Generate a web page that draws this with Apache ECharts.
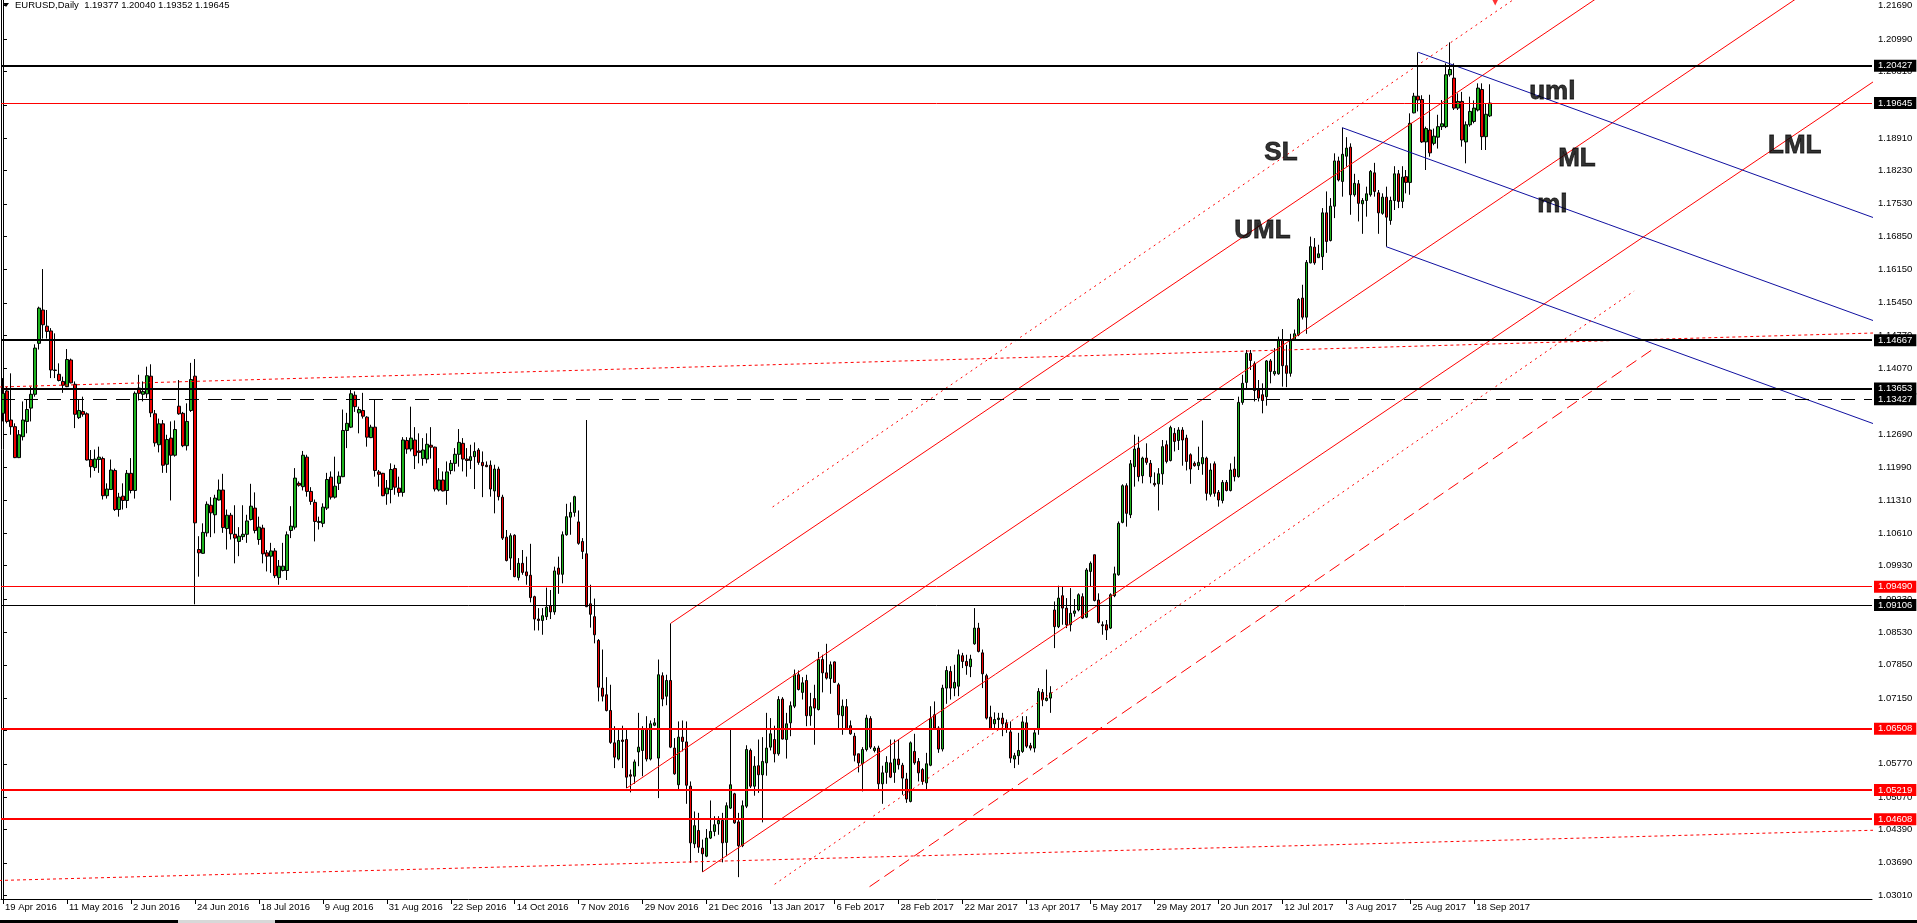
<!DOCTYPE html>
<html>
<head>
<meta charset="utf-8">
<script src="https://cdn.jsdelivr.net/npm/echarts@6/dist/echarts.min.js"></script>
<style>
html,body{margin:0;padding:0;background:#fff;}
#chart{width:1917px;height:923px;}
</style>
</head>
<body>
<div id="chart"></div>
<script>
// ---------------- DATA ----------------
const symbolName = 'EURUSD,Daily';
const dateLabels = ['19 Apr 2016','11 May 2016','2 Jun 2016','24 Jun 2016','18 Jul 2016','9 Aug 2016','31 Aug 2016','22 Sep 2016','14 Oct 2016','7 Nov 2016','29 Nov 2016','21 Dec 2016','13 Jan 2017','6 Feb 2017','28 Feb 2017','22 Mar 2017','13 Apr 2017','5 May 2017','29 May 2017','20 Jun 2017','12 Jul 2017','3 Aug 2017','25 Aug 2017','18 Sep 2017'];
const yTickLabels = [1.21690,1.20990,1.20310,1.19610,1.18910,1.18230,1.17530,1.16850,1.16150,1.15450,1.14770,1.14070,1.13390,1.12690,1.11990,1.11310,1.10610,1.09930,1.09230,1.08530,1.07850,1.07150,1.06470,1.05770,1.05070,1.04390,1.03690,1.03010];

const opens = [1.1313,1.1360,1.1299,1.1285,1.1220,1.1264,1.1296,1.1324,1.1353,1.1460,1.1530,1.1496,1.1486,1.1404,1.1395,1.1380,1.1369,1.1425,1.1374,1.1304,
1.1317,1.1312,1.1216,1.1199,1.1216,1.1218,1.1140,1.1153,1.1193,1.1111,1.1139,1.1130,1.1187,1.1151,1.1366,1.1353,1.1354,1.1391,1.1312,1.1247,
1.1291,1.1206,1.1261,1.1225,1.1328,1.1313,1.1245,1.1319,1.1391,1.1027,1.1019,1.1062,1.1120,1.1100,1.1131,1.1152,1.1071,1.1099,1.1059,1.1044,
1.1054,1.1059,1.1090,1.1114,1.1048,1.1072,1.1020,1.1013,1.1024,1.0968,1.0983,1.0983,1.1067,1.1074,1.1166,1.1159,1.1221,1.1149,1.1126,1.1084,
1.1082,1.1114,1.1179,1.1137,1.1166,1.1180,1.1277,1.1284,1.1351,1.1314,1.1319,1.1305,1.1262,1.1284,1.1190,1.1187,1.1144,1.1153,1.1197,1.1156,
1.1147,1.1256,1.1238,1.1257,1.1234,1.1218,1.1217,1.1246,1.1242,1.1152,1.1173,1.1151,1.1193,1.1208,1.1227,1.1250,1.1217,1.1214,1.1222,1.1236,
1.1210,1.1204,1.1204,1.1150,1.1196,1.1137,1.1053,1.1009,1.1057,1.0968,1.0998,1.0980,1.0973,1.0928,1.0881,1.0878,1.0886,1.0909,1.0896,1.0988,
1.0975,1.1058,1.1095,1.1105,1.1085,1.1044,1.1018,1.0913,1.0886,1.0836,1.0736,1.0722,1.0689,1.0621,1.0587,1.0627,1.0628,1.0554,1.0551,1.0602,
1.0605,1.0650,1.0587,1.0658,1.0589,1.0762,1.0719,1.0752,1.0610,1.0533,1.0633,1.0623,1.0530,1.0409,1.0437,1.0400,1.0383,1.0421,1.0435,1.0451,
1.0458,1.0412,1.0484,1.0514,1.0455,1.0405,1.0488,1.0605,1.0530,1.0573,1.0554,1.0579,1.0612,1.0628,1.0598,1.0713,1.0628,1.0663,1.0698,1.0764,
1.0727,1.0752,1.0678,1.0714,1.0691,1.0796,1.0768,1.0756,1.0791,1.0743,1.0678,1.0697,1.0657,1.0635,1.0598,1.0577,1.0607,1.0672,1.0605,1.0610,
1.0535,1.0559,1.0579,1.0559,1.0587,1.0574,1.0545,1.0498,1.0603,1.0582,1.0565,1.0537,1.0574,1.0680,1.0652,1.0608,1.0736,1.0771,1.0736,1.0740,
1.0804,1.0792,1.0781,1.0829,1.0862,1.0810,1.0762,1.0675,1.0661,1.0670,1.0673,1.0663,1.0644,1.0587,1.0594,1.0603,1.0663,1.0615,1.0610,1.0649,
1.0727,1.0710,1.0715,1.0900,1.0865,1.0930,1.0904,1.0869,1.0893,1.0900,1.0928,1.0885,1.0981,1.1016,1.0921,1.0869,1.0869,1.0862,1.0930,1.0974,
1.1084,1.1161,1.1100,1.1201,1.1240,1.1182,1.1219,1.1208,1.1166,1.1165,1.1186,1.1247,1.1214,1.1271,1.1256,1.1278,1.1261,1.1226,1.1208,1.1203,
1.1207,1.1219,1.1143,1.1207,1.1147,1.1130,1.1168,1.1151,1.1196,1.1180,1.1336,1.1378,1.1439,1.1417,1.1362,1.1352,1.1348,1.1423,1.1396,1.1396,
1.1467,1.1413,1.1397,1.1468,1.1478,1.1555,1.1515,1.1629,1.1662,1.1640,1.1642,1.1734,1.1676,1.1748,1.1843,1.1800,1.1853,1.1872,1.1772,1.1795,
1.1753,1.1760,1.1772,1.1818,1.1776,1.1733,1.1767,1.1718,1.1760,1.1816,1.1758,1.1810,1.1798,1.1944,1.1979,1.1972,1.1883,1.1908,1.1880,1.1893,
1.1915,1.1915,1.2024,1.2017,1.1954,1.1968,1.1883,1.1919,1.1926,1.1950,1.1993,1.1894,1.19377];
const highs = [1.1387,1.1369,1.1397,1.1292,1.1278,1.1338,1.1341,1.1369,1.1458,1.1537,1.1616,1.1530,1.1492,1.1481,1.1418,1.1390,1.1448,1.1428,1.1380,1.1342,
1.1348,1.1315,1.1236,1.1237,1.1243,1.1222,1.1166,1.1216,1.1197,1.1146,1.1166,1.1194,1.1219,1.1359,1.1394,1.1380,1.1411,1.1416,1.1320,1.1302,
1.1299,1.1268,1.1296,1.1298,1.1383,1.1316,1.1334,1.1419,1.1427,1.1055,1.1082,1.1128,1.1137,1.1142,1.1174,1.1186,1.1111,1.1104,1.1120,1.1074,
1.1120,1.1100,1.1165,1.1147,1.1096,1.1079,1.1026,1.1041,1.1030,1.1005,1.1041,1.1065,1.1118,1.1198,1.1170,1.1234,1.1226,1.1158,1.1132,1.1096,
1.1124,1.1188,1.1191,1.1222,1.1191,1.1321,1.1314,1.1363,1.1359,1.1327,1.1356,1.1307,1.1289,1.1341,1.1194,1.1188,1.1173,1.1208,1.1205,1.1180,
1.1263,1.1263,1.1327,1.1284,1.1271,1.1261,1.1271,1.1284,1.1243,1.1198,1.1191,1.1212,1.1215,1.1240,1.1280,1.1261,1.1240,1.1247,1.1252,1.1240,
1.1233,1.1212,1.1214,1.1205,1.1201,1.1142,1.1068,1.1061,1.1059,1.1009,1.1026,1.1012,1.1039,1.0930,1.0904,1.0904,1.0947,1.0942,1.0991,1.1012,
1.1065,1.1123,1.1126,1.1140,1.1109,1.1051,1.1299,1.0953,1.0924,1.0839,1.0817,1.0759,1.0743,1.0656,1.0649,1.0657,1.0649,1.0565,1.0586,1.0684,
1.0656,1.0677,1.0668,1.0673,1.0796,1.0769,1.0764,1.0872,1.0631,1.0666,1.0668,1.0666,1.0540,1.0477,1.0474,1.0418,1.0440,1.0500,1.0467,1.0467,
1.0474,1.0496,1.0651,1.0516,1.0474,1.0500,1.0616,1.0609,1.0593,1.0628,1.0633,1.0684,1.0673,1.0657,1.0719,1.0717,1.0684,1.0708,1.0775,1.0773,
1.0759,1.0764,1.0726,1.0743,1.0812,1.0806,1.0829,1.0792,1.0792,1.0747,1.0712,1.0713,1.0668,1.0642,1.0598,1.0612,1.0680,1.0677,1.0614,1.0615,
1.0573,1.0593,1.0628,1.0628,1.0628,1.0579,1.0558,1.0624,1.0640,1.0589,1.0568,1.0600,1.0698,1.0708,1.0656,1.0743,1.0782,1.0782,1.0785,1.0817,
1.0810,1.0806,1.0806,1.0904,1.0873,1.0817,1.0766,1.0699,1.0685,1.0684,1.0684,1.0670,1.0666,1.0600,1.0642,1.0677,1.0677,1.0621,1.0649,1.0736,
1.0734,1.0775,1.0740,1.0918,1.0951,1.0949,1.0925,1.0946,1.0923,1.0935,1.0935,1.0988,1.1002,1.1016,1.0935,1.0876,1.0879,1.0935,1.0991,1.1086,
1.1164,1.1166,1.1215,1.1268,1.1264,1.1222,1.1250,1.1215,1.1189,1.1198,1.1257,1.1256,1.1287,1.1282,1.1284,1.1284,1.1268,1.1229,1.1212,1.1243,
1.1298,1.1222,1.1208,1.1212,1.1152,1.1173,1.1173,1.1208,1.1222,1.1348,1.1394,1.1446,1.1446,1.1422,1.1383,1.1376,1.1425,1.1427,1.1450,1.1474,
1.1490,1.1457,1.1480,1.1489,1.1555,1.1583,1.1635,1.1684,1.1681,1.1667,1.1744,1.1779,1.1765,1.1859,1.1852,1.1913,1.1893,1.1880,1.1816,1.1803,
1.1765,1.1789,1.1824,1.1839,1.1782,1.1775,1.1789,1.1768,1.1832,1.1824,1.1832,1.1824,1.1943,1.1986,1.2071,1.1981,1.1915,1.1982,1.1911,1.1940,
1.1971,1.2048,1.2092,1.2048,1.1985,1.1988,1.1926,1.1978,1.1970,1.2006,1.2006,1.1964,1.20040];
const lows = [1.1296,1.1292,1.1268,1.1219,1.1219,1.1256,1.1271,1.1296,1.1348,1.1447,1.1470,1.1470,1.1387,1.1387,1.1380,1.1356,1.1368,1.1376,1.1282,1.1301,
1.1306,1.1214,1.1178,1.1192,1.1188,1.1132,1.1134,1.1152,1.1108,1.1096,1.1111,1.1114,1.1145,1.1134,1.1340,1.1338,1.1345,1.1305,1.1243,1.1231,
1.1188,1.1188,1.1130,1.1222,1.1310,1.1242,1.1235,1.1316,1.0912,1.0970,1.1018,1.1054,1.1053,1.1061,1.1130,1.1062,1.1027,1.1048,1.0998,1.1013,
1.1047,1.1041,1.1088,1.1061,1.1037,1.0998,1.0981,1.0978,1.0967,1.0953,1.0981,1.0963,1.1051,1.1069,1.1159,1.1151,1.1138,1.1121,1.1044,1.1069,
1.1074,1.1110,1.1132,1.1134,1.1152,1.1179,1.1240,1.1282,1.1316,1.1271,1.1302,1.1243,1.1261,1.1180,1.1159,1.1139,1.1121,1.1124,1.1142,1.1138,
1.1138,1.1228,1.1233,1.1196,1.1208,1.1203,1.1208,1.1218,1.1149,1.1149,1.1149,1.1121,1.1185,1.1191,1.1201,1.1191,1.1180,1.1196,1.1154,1.1205,
1.1137,1.1200,1.1138,1.1103,1.1130,1.1047,1.1002,1.0984,1.0969,1.0962,1.0974,1.0953,1.0916,1.0857,1.0857,1.0848,1.0879,1.0881,1.0890,1.0934,
1.0956,1.1056,1.1058,1.1096,1.1037,1.1007,1.0906,1.0863,1.0830,1.0708,1.0708,1.0687,1.0619,1.0568,1.0584,1.0568,1.0526,1.0517,1.0535,1.0572,
1.0551,1.0582,1.0584,1.0656,1.0505,1.0698,1.0700,1.0610,1.0554,1.0524,1.0603,1.0493,1.0369,1.0400,1.0390,1.0350,1.0381,1.0419,1.0425,1.0428,
1.0370,1.0383,1.0482,1.0451,1.0339,1.0402,1.0484,1.0526,1.0510,1.0516,1.0454,1.0552,1.0605,1.0580,1.0594,1.0628,1.0588,1.0635,1.0694,1.0731,
1.0712,1.0656,1.0657,1.0617,1.0689,1.0727,1.0754,1.0724,1.0747,1.0652,1.0638,1.0649,1.0638,1.0582,1.0559,1.0519,1.0603,1.0608,1.0601,1.0523,
1.0493,1.0535,1.0547,1.0537,1.0565,1.0512,1.0495,1.0496,1.0575,1.0540,1.0533,1.0524,1.0572,1.0649,1.0600,1.0603,1.0703,1.0712,1.0719,1.0719,
1.0778,1.0764,1.0759,1.0827,1.0811,1.0736,1.0670,1.0649,1.0652,1.0650,1.0635,1.0642,1.0579,1.0568,1.0575,1.0600,1.0610,1.0605,1.0601,1.0638,
1.0698,1.0708,1.0684,1.0820,1.0862,1.0869,1.0862,1.0855,1.0886,1.0897,1.0881,1.0883,1.0949,1.0918,1.0872,1.0848,1.0837,1.0860,1.0927,1.0972,
1.1082,1.1075,1.1093,1.1159,1.1170,1.1166,1.1205,1.1166,1.1159,1.1109,1.1163,1.1208,1.1212,1.1233,1.1236,1.1203,1.1193,1.1165,1.1201,1.1194,
1.1184,1.1130,1.1138,1.1138,1.1117,1.1124,1.1149,1.1149,1.1170,1.1178,1.1331,1.1364,1.1404,1.1338,1.1338,1.1313,1.1329,1.1376,1.1392,1.1394,
1.1369,1.1368,1.1390,1.1467,1.1475,1.1510,1.1480,1.1628,1.1625,1.1639,1.1614,1.1650,1.1674,1.1723,1.1800,1.1768,1.1831,1.1730,1.1768,1.1716,
1.1690,1.1726,1.1768,1.1768,1.1690,1.1730,1.1663,1.1709,1.1740,1.1744,1.1744,1.1775,1.1772,1.1943,1.1947,1.1881,1.1824,1.1852,1.1876,1.1869,
1.1908,1.1912,1.2020,1.1950,1.1950,1.1873,1.1838,1.1915,1.1922,1.1947,1.1866,1.1866,1.19352];
const closes = [1.1355,1.1296,1.1285,1.1220,1.1268,1.1299,1.1321,1.1353,1.1450,1.1534,1.1499,1.1485,1.1404,1.1403,1.1382,1.1372,1.1426,1.1377,1.1311,1.1319,
1.1311,1.1215,1.1201,1.1217,1.1221,1.1140,1.1154,1.1194,1.1111,1.1137,1.1130,1.1187,1.1151,1.1355,1.1355,1.1359,1.1392,1.1314,1.1251,1.1291,
1.1204,1.1258,1.1225,1.1279,1.1312,1.1245,1.1296,1.1384,1.1083,1.1020,1.1063,1.1122,1.1104,1.1135,1.1152,1.1073,1.1099,1.1060,1.1051,1.1055,
1.1059,1.1087,1.1118,1.1067,1.1074,1.1018,1.1013,1.1024,1.0972,1.0992,1.0992,1.1058,1.1076,1.1177,1.1162,1.1225,1.1149,1.1128,1.1086,1.1086,
1.1116,1.1174,1.1137,1.1160,1.1181,1.1277,1.1292,1.1354,1.1327,1.1321,1.1307,1.1263,1.1284,1.1193,1.1185,1.1140,1.1156,1.1195,1.1158,1.1147,
1.1257,1.1238,1.1261,1.1224,1.1231,1.1236,1.1248,1.1242,1.1154,1.1173,1.1150,1.1190,1.1208,1.1227,1.1252,1.1217,1.1214,1.1222,1.1233,1.1210,
1.1203,1.1201,1.1154,1.1196,1.1138,1.1051,1.1004,1.1056,1.0970,1.0998,1.0979,1.0972,1.0926,1.0881,1.0878,1.0888,1.0906,1.0896,1.0982,1.0975,
1.1058,1.1096,1.1105,1.1138,1.1040,1.1023,1.0907,1.0891,1.0848,1.0738,1.0719,1.0689,1.0622,1.0591,1.0626,1.0624,1.0549,1.0551,1.0581,1.0612,
1.0650,1.0587,1.0661,1.0663,1.0764,1.0713,1.0752,1.0612,1.0556,1.0633,1.0624,1.0532,1.0411,1.0447,1.0402,1.0388,1.0421,1.0435,1.0449,1.0458,
1.0411,1.0489,1.0533,1.0453,1.0405,1.0489,1.0607,1.0530,1.0572,1.0554,1.0582,1.0610,1.0640,1.0598,1.0712,1.0629,1.0661,1.0699,1.0764,1.0733,
1.0747,1.0678,1.0697,1.0694,1.0796,1.0768,1.0757,1.0785,1.0748,1.0680,1.0698,1.0651,1.0640,1.0595,1.0579,1.0607,1.0673,1.0612,1.0610,1.0535,
1.0558,1.0580,1.0549,1.0587,1.0575,1.0547,1.0503,1.0621,1.0579,1.0558,1.0540,1.0577,1.0672,1.0652,1.0608,1.0736,1.0773,1.0736,1.0748,1.0806,
1.0792,1.0783,1.0797,1.0862,1.0813,1.0766,1.0673,1.0650,1.0670,1.0673,1.0661,1.0651,1.0589,1.0594,1.0605,1.0665,1.0614,1.0610,1.0642,1.0729,
1.0712,1.0715,1.0726,1.0865,1.0925,1.0904,1.0869,1.0893,1.0898,1.0932,1.0883,1.0984,1.0998,1.0920,1.0874,1.0867,1.0858,1.0932,1.0976,1.1082,
1.1161,1.1103,1.1207,1.1238,1.1180,1.1219,1.1210,1.1180,1.1163,1.1186,1.1243,1.1212,1.1283,1.1254,1.1278,1.1257,1.1212,1.1196,1.1203,1.1210,
1.1220,1.1145,1.1194,1.1145,1.1131,1.1168,1.1151,1.1194,1.1180,1.1336,1.1376,1.1439,1.1424,1.1361,1.1345,1.1340,1.1423,1.1401,1.1401,1.1467,
1.1413,1.1397,1.1467,1.1480,1.1552,1.1515,1.1630,1.1663,1.1629,1.1648,1.1734,1.1674,1.1748,1.1843,1.1803,1.1857,1.1870,1.1772,1.1796,1.1754,
1.1760,1.1774,1.1821,1.1779,1.1734,1.1767,1.1725,1.1760,1.1816,1.1758,1.1809,1.1798,1.1922,1.1979,1.1971,1.1883,1.1911,1.1860,1.1895,1.1915,
1.1921,1.2024,1.2035,1.1954,1.1968,1.1887,1.1919,1.1947,1.1954,1.1996,1.1894,1.1941,1.19645];

// horizontal levels
const blackLevels = [1.20427, 1.14667, 1.13653];
const blackDashLevels = [1.13427];
const thinBlackLevels = [1.09106];
const bidLevels = [1.19645];
const thinRedLevels = [1.09490];
const redLevels = [1.06508, 1.05219, 1.04608];

// pitchfork anchors [bar index, price]
const redFork = [[156, 1.0526], [167, 1.0872], [175, 1.0350]];
const blueFork = [[335, 1.19128], [354, 1.20712], [346, 1.16629]];
// extra trend lines [bar index, price]
const slLine = [[192.5, 1.11163], [400, 1.23094]];
const warnDotLine = [[193, 1.0324], [408, 1.15699]];
const warnDashLine = [[216.75, 1.03189], [413.5, 1.14523]];
const upperDotLine = [[-1, 1.13683], [468, 1.14817]];
const lowerDotLine = [[-1, 1.03320], [468, 1.04375]];
// annotation texts
const noteTexts = ['SL', 'UML', 'uml', 'ML', 'ml', 'LML'];
const noteX = [315.5, 308, 381.75, 389, 383.75, 441.5];
const noteY = [1.18597, 1.16959, 1.19884, 1.18471, 1.17505, 1.18744];
const arrowPoint = [373.25, 1.21768];

// ---------------- CHART ----------------
const SLOTS = 468;
const Y_MIN = 1.02931, Y_MAX = 1.2181;
const FONT = 'Liberation Sans';
const n = opens.length;
const candleData = opens.map((o, i) => [o, closes[i], lows[i], highs[i]]);
const categories = Array.from({length: SLOTS}, (_, i) => String(i));
const isLabelIdx = (idx) => idx % 16 === 0 && idx / 16 < dateLabels.length;

function forkLines(f) {
  const [p1, p2, p3] = f;
  const mx = (p2[0] + p3[0]) / 2, my = (p2[1] + p3[1]) / 2;
  const s = (my - p1[1]) / (mx - p1[0]);
  const end = 480;
  return [p1, p2, p3].map(p => [p, [end, p[1] + s * (end - p[0])]]);
}

const RED = '#ff0000';
const BLUE = '#1010a0';

function lineSeries(pts, color, type) {
  return {
    type: 'line', xAxisIndex: 1, yAxisIndex: 0, data: pts, showSymbol: false, symbol: 'none',
    silent: true, animation: false, z: 4, clip: true,
    lineStyle: {color: color, width: 1, type: type || 'solid'}
  };
}

function levelItem(v, color, width, type, boxColor) {
  return {
    yAxis: v,
    lineStyle: {color: color, width: width, type: type},
    label: {
      show: true, position: 'end', distance: 2,
      formatter: () => v.toFixed(5),
      color: '#fff', backgroundColor: boxColor, padding: [1, 4, 0, 4],
      fontSize: 9.5, fontFamily: FONT, lineHeight: 11
    }
  };
}

const markData = [];
blackLevels.forEach(v => markData.push(levelItem(v, '#000', 2, 'solid', '#000')));
blackDashLevels.forEach(v => markData.push(levelItem(v, '#000', 1, [14, 9], '#000')));
thinBlackLevels.forEach(v => markData.push(levelItem(v, '#000', 1, 'solid', '#000')));
bidLevels.forEach(v => markData.push(levelItem(v, RED, 1, 'solid', '#000')));
thinRedLevels.forEach(v => markData.push(levelItem(v, RED, 1, 'solid', RED)));
redLevels.forEach(v => markData.push(levelItem(v, RED, 2, 'solid', RED)));

const series = [{
  type: 'candlestick', xAxisIndex: 0, yAxisIndex: 0, data: candleData,
  barWidth: 3, animation: false, z: 3,
  itemStyle: {color: '#1db31d', color0: '#ee0000', borderColor: '#000', borderColor0: '#000', borderWidth: 1},
  markLine: {symbol: ['none', 'none'], silent: true, animation: false, precision: 5, data: markData}
}];

forkLines(redFork).forEach(l => series.push(lineSeries(l, RED)));
forkLines(blueFork).forEach(l => series.push(lineSeries(l, BLUE)));
series.push(lineSeries(slLine, RED, [2, 4]));
series.push(lineSeries(warnDotLine, RED, [2, 4]));
series.push(lineSeries(warnDashLine, RED, [12, 6]));
series.push(lineSeries(upperDotLine, RED, [3, 3]));
series.push(lineSeries(lowerDotLine, RED, [3, 3]));

series.push({
  type: 'scatter', xAxisIndex: 1, yAxisIndex: 0, symbolSize: 0, silent: true, animation: false, z: 6,
  data: noteTexts.map((t, i) => ({value: [noteX[i], noteY[i]], name: t})),
  label: {show: true, position: 'right', distance: 0, formatter: p => p.name,
    color: '#000', fontSize: 26, fontWeight: 'bold', fontFamily: FONT, verticalAlign: 'middle',
    textBorderColor: '#000', textBorderWidth: 0.8}
});
series.push({
  type: 'scatter', xAxisIndex: 1, yAxisIndex: 0, symbol: 'triangle', symbolRotate: 180, symbolSize: 7,
  silent: true, animation: false, z: 6, itemStyle: {color: RED}, data: [arrowPoint]
});

const last = n - 1;
const titleText = symbolName + '  ' + [opens[last], highs[last], lows[last], closes[last]].map(v => v.toFixed(5)).join(' ');

const chart = echarts.init(document.getElementById('chart'), null, {renderer: 'canvas'});
chart.setOption({
  animation: false,
  backgroundColor: '#fff',
  textStyle: {fontFamily: FONT},
  grid: {left: 1, right: 45, top: 0, bottom: 24, containLabel: false},
  xAxis: [{
    type: 'category', data: categories, boundaryGap: true, position: 'bottom',
    axisLine: {show: true, lineStyle: {color: '#000', width: 1}},
    axisTick: {show: true, alignWithLabel: true, interval: isLabelIdx, length: 5, lineStyle: {color: '#000'}},
    axisLabel: {show: true, interval: isLabelIdx, align: 'left', margin: 3, padding: [0, 0, 0, 2],
      formatter: (v, idx) => isLabelIdx(idx) ? dateLabels[idx / 16] : '',
      color: '#000', fontSize: 9.5, fontFamily: FONT, hideOverlap: false},
    splitLine: {show: false}
  }, {
    type: 'value', min: -0.5, max: SLOTS - 0.5, show: false
  }],
  yAxis: [{
    type: 'value', position: 'right', min: Y_MIN, max: Y_MAX, scale: true,
    axisLine: {show: true, lineStyle: {color: '#000', width: 1}},
    axisTick: {show: true, length: 4, customValues: yTickLabels, lineStyle: {color: '#000'}},
    axisLabel: {show: true, customValues: yTickLabels, formatter: v => Number(v).toFixed(5), margin: 6,
      color: '#000', fontSize: 9.5, fontFamily: FONT},
    splitLine: {show: false}
  }, {
    type: 'value', position: 'left', min: Y_MIN, max: Y_MAX,
    axisLine: {show: true, onZero: false, lineStyle: {color: '#000', width: 1}},
    axisTick: {show: false}, axisLabel: {show: false}, splitLine: {show: false}
  }],
  graphic: [
    {type: 'polygon', shape: {points: [[3, 3], [9, 3], [6, 7]]}, style: {fill: '#000'}, z: 10},
    {type: 'text', x: 15, y: 0, z: 10, style: {text: titleText, fill: '#000', font: '9.5px "Liberation Sans"', textVerticalAlign: 'top'}},
    {type: 'rect', shape: {x: 0, y: 920, width: 178, height: 3}, style: {fill: '#000'}},
    {type: 'rect', shape: {x: 178, y: 920, width: 97, height: 3}, style: {fill: '#d8d8d8'}},
    {type: 'rect', shape: {x: 275, y: 920, width: 1642, height: 3}, style: {fill: '#000'}}
  ],
  series: series
});
</script>
</body>
</html>
